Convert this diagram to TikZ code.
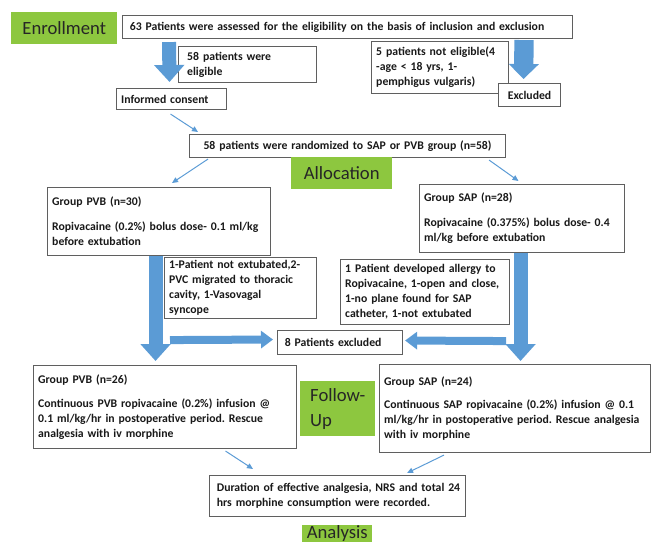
\documentclass[tikz,border=0pt]{standalone}
\usepackage{fontspec}
\setmainfont{Carlito}
\usetikzlibrary{positioning, arrows.meta, calc}
\definecolor{tagGreen}{RGB}{141,199,63}
\definecolor{flowBlue}{RGB}{91,155,213}
\definecolor{boxLine}{RGB}{95,95,95}
\hyphenpenalty=10000
\exhyphenpenalty=10000
\frenchspacing

\begin{document}
\begin{tikzpicture}[
    x=0.75pt, y=0.75pt,
    box/.style={rectangle, draw=boxLine, line width=0.8pt, fill=white,
                anchor=north west, align=left, inner xsep=3.5pt, inner ysep=2pt,
                font=\bfseries\fontsize{8.8}{11.25}\selectfont, text=black!90},
    tag/.style={rectangle, fill=tagGreen, anchor=north west, inner sep=1pt,
                font=\fontsize{14}{18.75}\selectfont, text=black!85},
    blockarrow/.style={draw=flowBlue, line width=10.5pt,
                       -{Triangle[width=22pt, length=12.75pt]}},
    sidearrow/.style={draw=flowBlue, line width=6pt,
                      -{Triangle[width=12.75pt, length=9pt]}},
    thinarrow/.style={draw=flowBlue, line width=0.75pt,
                      -{Triangle[width=4pt, length=4.5pt]}}
]
  \clip (0,0) rectangle (653,-542);

  % --- Enrollment ---
  \node[tag, minimum width=79.5pt, minimum height=24pt] (enrol) at (11,-12) {Enrollment};
  \node[box, text width=330.5pt, minimum height=17.25pt] (assess) at (122,-15)
    {\hspace*{2pt}63 Patients were assessed for the eligibility on the basis of inclusion and exclusion};
  \node[box, text width=96.5pt, minimum height=27pt] (elig) at (178,-46) {\hspace*{3pt}58 patients were\\\hspace*{3pt}eligible};
  \node[box, text width=75.5pt, minimum height=15.75pt] (consent) at (116,-88) {Informed consent};
  \node[box, text width=95.75pt, minimum height=39pt] (notelig) at (371,-41)
    {5 patients not eligible(4\\-age < 18 yrs, 1-\\pemphigus vulgaris)};
  \node[box, text width=39.5pt, minimum height=17.25pt, align=center] (excluded) at (498,-83) {Excluded};

  % --- Allocation ---
  \node[box, text width=230pt, minimum height=17.25pt, align=center] (random) at (189,-134)
    {58 patients were randomized to SAP or PVB group (n=58)};
  \node[tag, minimum width=75.75pt, minimum height=24pt] (alloc) at (291,-157) {Allocation};
  \node[box, text width=160.25pt, minimum height=51pt] (pvbA) at (47,-187)
    {Group PVB (n=30)\\[7.5pt]Ropivacaine (0.2\%) bolus dose- 0.1 ml/kg\\before extubation};
  \node[box, text width=146.75pt, minimum height=51pt] (sapA) at (419,-184)
    {Group SAP (n=28)\\[7.5pt]Ropivacaine (0.375\%) bolus dose- 0.4\\ml/kg before extubation};
  \node[box, text width=107pt, minimum height=45.75pt] (pvbOut) at (164,-257)
    {1-Patient not extubated,2-\\PVC migrated to thoracic\\cavity, 1-Vasovagal\\syncope};
  \node[box, text width=119.75pt, minimum height=48.75pt] (sapOut) at (340,-259)
    {1 Patient developed allergy to\\Ropivacaine, 1-open and close,\\1-no plane found for SAP\\catheter, 1-not extubated};
  \node[box, text width=86.75pt, minimum height=18pt] (dropped) at (277,-330) {\hspace*{2pt}8 Patients excluded};

  % --- Follow-up ---
  \node[box, text width=190.25pt, minimum height=62.25pt] (pvbB) at (33,-365)
    {Group PVB (n=26)\\[6.5pt]Continuous PVB ropivacaine (0.2\%) infusion @\\0.1 ml/kg/hr in postoperative period. Rescue\\analgesia with iv morphine};
  \node[box, text width=196.25pt, minimum height=66pt] (sapB) at (379,-364)
    {Group SAP (n=24)\\[6.5pt]Continuous SAP ropivacaine (0.2\%) infusion @ 0.1\\ml/kg/hr in postoperative period. Rescue analgesia\\with iv morphine};
  \node[tag, align=left, minimum width=56.25pt, minimum height=41.25pt] (follow) at (300,-381) {Follow-\\Up};

  % --- Analysis ---
  \node[box, text width=185pt, minimum height=30.75pt] (record) at (209,-475)
    {\hspace*{2pt}Duration of effective analgesia, NRS and total 24\\\hspace*{2pt}hrs morphine consumption were recorded.};
  \node[tag, minimum width=52.5pt, inner ysep=0.5pt, text depth=12pt] (analysis) at (302,-525) {Analysis};

  % block arrows
  \draw[blockarrow] ($(assess.south west)+(47,-3)$) -- ($(consent.north)+(-2,6)$);
  \draw[blockarrow, line width=14.5pt, -{Triangle[width=22pt, length=11.25pt]}]
    ($(assess.south east)+(-49,-1)$) -- ($(excluded.north)+(-6,4)$);
  \draw[blockarrow] ($(pvbA.south)+(-3.5,0)$) -- ($(pvbB.north)+(-9.5,4)$);
  \draw[blockarrow] ($(sapA.south)+(-1.5,0)$) -- ($(sapB.north)+(5.5,3)$);
  \draw[sidearrow] ($(pvbOut.south west)+(6,-21)$) -- ($(dropped.west)+(-4,3)$);
  \draw[sidearrow] ($(sapOut.south east)+(-4,-16)$) -- ($(dropped.east)+(2,2)$);

  % thin arrows
  \draw[thinarrow] ($(consent.south)+(-1,-4)$) -- ($(random.north west)+(9,2)$);
  \draw[thinarrow] ($(random.south west)+(19,-1)$) -- ($(pvbA.north west)+(125,4)$);
  \draw[thinarrow] ($(random.south east)+(-17,-2)$) -- ($(sapA.north)+(-3.5,3)$);
  \draw[thinarrow] ($(pvbB.south)+(60.5,-2)$) -- ($(record.north west)+(44,6)$);
  \draw[thinarrow] ($(sapB.south west)+(65,-2)$) -- ($(record.north east)+(-59,2)$);
\end{tikzpicture}
\end{document}
